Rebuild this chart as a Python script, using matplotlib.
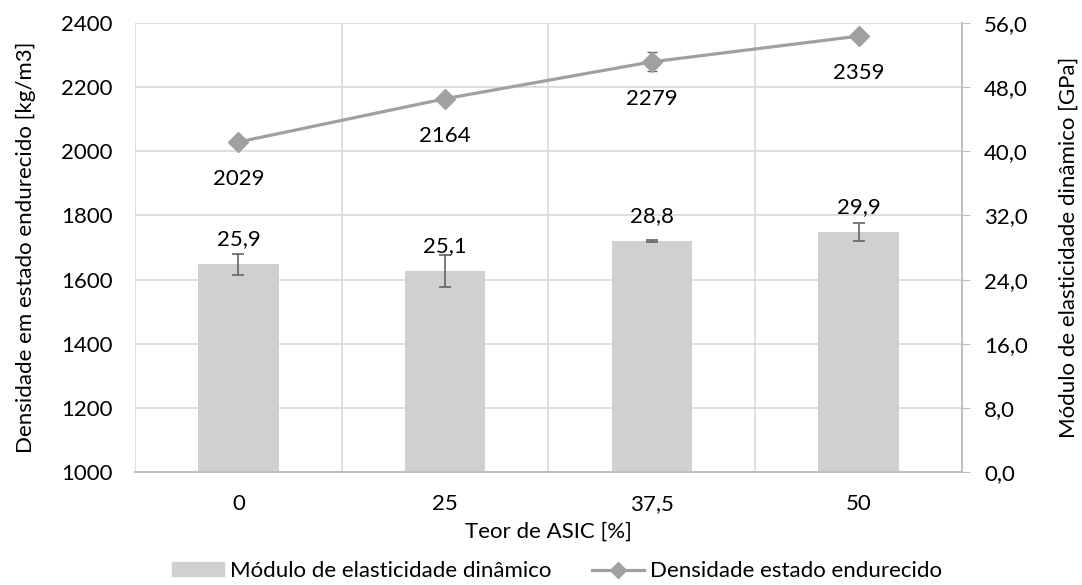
import matplotlib
matplotlib.use('Agg')
import matplotlib.pyplot as plt
from matplotlib.lines import Line2D
from matplotlib.patches import Patch
import numpy as np

plt.rcParams['font.family'] = ['Lato', 'DejaVu Sans']
plt.rcParams['font.size'] = 16

# dados
categorias = ['0', '25', '37,5', '50']
modulo = [25.9, 25.1, 28.8, 29.9]          # GPa
modulo_err = [1.3, 2.0, 0.1, 1.1]
densidade = [2029, 2164, 2279, 2359]       # kg/m3
densidade_err = [10, 10, 30, 10]

cor_barra = '#D0D0D0'
cor_linha = '#A0A0A0'
cor_erro = '#636363'
cor_grade = '#D9D9D9'

fig = plt.figure(figsize=(10.82, 5.85), dpi=100)
ax = fig.add_axes([0.1248, 0.193, 0.7642, 0.7677])
ax2 = ax.twinx()

x = np.arange(len(categorias))

# barras no eixo da direita (GPa)
ax.bar(x, modulo, width=0.39, color=cor_barra, zorder=2)
ax.errorbar(x, modulo, yerr=modulo_err, fmt='none', ecolor=cor_erro,
            elinewidth=1.2, capsize=4.3, capthick=1.2, zorder=3)
for xi, v in zip(x, modulo):
    ax.annotate(f'{v:.1f}'.replace('.', ','), (xi, v), xytext=(0, 25),
                textcoords='offset pixels', ha='center', va='center')

ax.set_ylim(0, 56)
ax.set_yticks(np.arange(0, 57, 8))
ax.set_yticklabels([f'{t:.1f}'.replace('.', ',') for t in np.arange(0, 57, 8)])
ax.yaxis.tick_right()
ax.yaxis.set_label_position('right')
ax.set_ylabel('Módulo de elasticidade dinâmico [GPa]', labelpad=22)
ax.tick_params(axis='y', length=6, color='#BFBFBF', pad=10)
ax.grid(axis='y', color=cor_grade, lw=1.2, zorder=0)

# grade vertical nas fronteiras das categorias
ax.set_xlim(-0.5, len(categorias) - 0.5)
ax.set_xticks(x)
ax.set_xticklabels(categorias)
ax.set_xticks(np.arange(-0.5, len(categorias), 1), minor=True)
ax.grid(axis='x', which='minor', color=cor_grade, lw=1.2, zorder=0)
ax.tick_params(axis='x', which='both', length=0, pad=16)
ax.set_xlabel('Teor de ASIC [%]', labelpad=5)

# linha no eixo da esquerda (kg/m3)
ax2.errorbar(x, densidade, yerr=densidade_err, color=cor_linha, lw=2.3,
             marker='D', markersize=10.5, ecolor=cor_erro, elinewidth=1,
             capsize=3.5, zorder=4)
for xi, v in zip(x, densidade):
    ax2.annotate(str(v), (xi, v), xytext=(0, -37), textcoords='offset pixels',
                 ha='center', va='center')
ax2.set_ylim(1000, 2400)
ax2.set_yticks(np.arange(1000, 2401, 200))
ax2.yaxis.tick_left()
ax2.yaxis.set_label_position('left')
ax2.set_ylabel('Densidade em estado endurecido [kg/m3]', labelpad=18)
ax2.tick_params(axis='y', length=0, pad=16)

for a in (ax, ax2):
    for s in ['top', 'left']:
        a.spines[s].set_visible(False)
    a.spines['right'].set_color('#BFBFBF')
    a.spines['bottom'].set_color('#BFBFBF')
    a.spines['right'].set_linewidth(1.2)
    a.spines['bottom'].set_linewidth(1.2)

handles = [Patch(color=cor_barra),
           Line2D([], [], color=cor_linha, lw=2.3, marker='D', markersize=8)]
labels = ['Módulo de elasticidade dinâmico', 'Densidade estado endurecido']
fig.legend(handles, labels, loc='center', bbox_to_anchor=(0.515, 0.024),
           ncol=2, frameon=False, handlelength=2.34, handleheight=0.6,
           columnspacing=1.85, handletextpad=0.27)

fig.savefig('out.png', dpi=100)
